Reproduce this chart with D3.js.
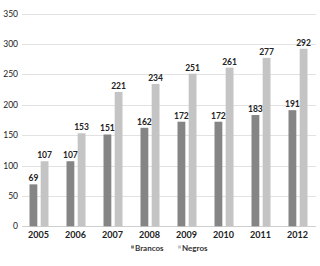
<!DOCTYPE html>
<html><head><meta charset="utf-8">
<script src="https://cdn.jsdelivr.net/npm/d3@7"></script>
<style>body{margin:0;background:#fff}svg{display:block;font-family:Lato,"Open Sans",sans-serif}</style>
</head><body>
<svg id="c" width="320" height="266"></svg>
<script>
const years = ["2005","2006","2007","2008","2009","2010","2011","2012"];
const brancos = [69,107,151,162,172,172,183,191];
const negros = [107,153,221,234,251,261,277,292];
const yTicks = [0,50,100,150,200,250,300,350];
const seriesNames = ["Brancos","Negros"];
const colors = ["#858585","#c4c4c4"];

const svg = d3.select("#c");
const x = d3.scaleBand().domain(years).range([20,316]).paddingInner(0).paddingOuter(0);
const sub = d3.scaleBand().domain(seriesNames).range([9.5,28.5]).paddingInner(0.3);
const y = d3.scaleLinear().domain([0,350]).range([226.3,13.5]);

// gridlines
svg.append("g").selectAll("line").data(yTicks).join("line")
  .attr("x1",22).attr("x2",316)
  .attr("y1",d=>Math.round(y(d))+0.5).attr("y2",d=>Math.round(y(d))+0.5)
  .attr("stroke",d=>d===0?"#cfcfcf":"#e2e2e2").attr("stroke-width",1);

// y labels
svg.append("g").selectAll("text").data(yTicks).join("text")
  .attr("x",18).attr("y",d=>y(d)+3)
  .attr("text-anchor","end").attr("font-size",8.5).attr("fill","#222").text(d=>d);

const data = years.map((yr,i)=>({yr, vals:[brancos[i],negros[i]]}));
const g = svg.append("g").selectAll("g").data(data).join("g")
  .attr("transform",d=>`translate(${x(d.yr)},0)`);
g.selectAll("rect").data(d=>d.vals.map((v,j)=>({v,s:seriesNames[j],j}))).join("rect")
  .attr("x",d=>sub(d.s)).attr("width",sub.bandwidth())
  .attr("y",d=>y(d.v)).attr("height",d=>y(0)-y(d.v))
  .attr("fill",d=>colors[d.j]);
g.selectAll("text").data(d=>d.vals.map((v,j)=>({v,s:seriesNames[j],j}))).join("text")
  .attr("x",d=>sub(d.s)+sub.bandwidth()/2).attr("y",d=>y(d.v)-3)
  .attr("text-anchor","middle").attr("font-size",8.5).attr("font-weight","bold").attr("fill","#222")
  .text(d=>d.v);

// x labels
svg.append("g").selectAll("text").data(years).join("text")
  .attr("x",d=>x(d)+x.bandwidth()/2).attr("y",237.5)
  .attr("text-anchor","middle").attr("font-size",9).attr("font-weight","bold").attr("fill","#222").text(d=>d);

// legend
const leg = [{n:"Brancos",x:131},{n:"Negros",x:178}];
const lg = svg.append("g").selectAll("g").data(leg).join("g").attr("transform",d=>`translate(${d.x},249)`);
lg.append("rect").attr("x",0).attr("y",-3.5).attr("width",3).attr("height",3).attr("fill",(d,i)=>colors[i]);
lg.append("text").attr("x",4).attr("y",0).attr("font-size",8).attr("font-weight","bold").attr("fill","#333").attr("dominant-baseline","middle").text(d=>d.n);
</script>
</body></html>
